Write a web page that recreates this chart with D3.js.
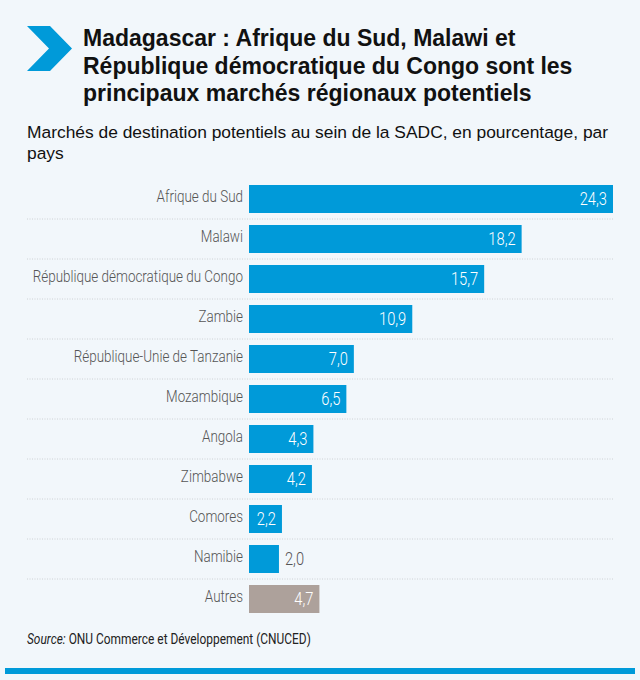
<!DOCTYPE html>
<html>
<head>
<meta charset="utf-8">
<script src="https://cdn.jsdelivr.net/npm/d3@7"></script>
<style>
  body { margin: 0; background: #f2f7fb; }
  svg { display: block; }
</style>
</head>
<body>
<div id="chart"></div>
<script>
const countries = ["Afrique du Sud", "Malawi", "République démocratique du Congo", "Zambie",
  "République-Unie de Tanzanie", "Mozambique", "Angola", "Zimbabwe", "Comores", "Namibie", "Autres"];
const shares = [24.3, 18.2, 15.7, 10.9, 7.0, 6.5, 4.3, 4.2, 2.2, 2.0, 4.7];
const titleLines = ["Madagascar : Afrique du Sud, Malawi et",
  "République démocratique du Congo sont les",
  "principaux marchés régionaux potentiels"];
const subtitleLines = ["Marchés de destination potentiels au sein de la SADC, en pourcentage, par", "pays"];

const width = 640, height = 680;
const blue = "#009ad9", grey = "#ada19b";
const narrow = "Roboto, sans-serif";
const squeeze = 0.84; // the original uses a condensed face

const data = countries.map((c, i) => ({ name: c, value: shares[i] }));

const svg = d3.select("#chart").append("svg")
    .attr("width", width)
    .attr("height", height)
    .style("background", "#f2f7fb");

// chevron
svg.append("path")
    .attr("d", "M27,26 L50,26 L72,48.5 L50,71 L27,71 L49,48.5 Z")
    .attr("fill", blue);

svg.append("g")
    .selectAll("text")
    .data(titleLines)
    .join("text")
    .attr("x", 83)
    .attr("y", (d, i) => 46 + i * 27.5)
    .attr("font-family", "'Liberation Sans', Arial, sans-serif")
    .attr("font-weight", "bold")
    .attr("font-size", 23)
    .attr("fill", "#111")
    .text(d => d);

svg.append("g")
    .selectAll("text")
    .data(subtitleLines)
    .join("text")
    .attr("x", 27)
    .attr("y", (d, i) => 138 + i * 21)
    .attr("font-family", "'Liberation Sans', Arial, sans-serif")
    .attr("font-size", 17.4)
    .attr("fill", "#111")
    .text(d => d);

const x = d3.scaleLinear()
    .domain([0, 24.3])
    .range([249, 613]);

const y = d3.scaleBand()
    .domain(countries)
    .range([179, 619])
    .paddingInner(0.3)
    .paddingOuter(0.15);

// dotted separators
svg.append("g")
    .selectAll("line")
    .data(countries.slice(0, -1))
    .join("line")
    .attr("x1", 27)
    .attr("x2", 613)
    .attr("y1", d => y(d) + y.bandwidth() + y.step() * 0.15)
    .attr("y2", d => y(d) + y.bandwidth() + y.step() * 0.15)
    .attr("stroke", "#c4c8cc")
    .attr("stroke-width", 0.8)
    .attr("stroke-dasharray", "1,1.5");

svg.append("g")
    .selectAll("rect")
    .data(data)
    .join("rect")
    .attr("x", x(0))
    .attr("y", d => y(d.name))
    .attr("width", d => x(d.value) - x(0))
    .attr("height", y.bandwidth())
    .attr("fill", d => d.name === "Autres" ? grey : blue);

svg.append("g")
    .selectAll("text")
    .data(data)
    .join("text")
    .attr("transform", d => `translate(${x(0) - 6},${y(d.name) + y.bandwidth() / 2}) scale(${squeeze},1)`)
    .attr("dy", "0.2em")
    .attr("text-anchor", "end")
    .attr("font-family", narrow)
    .attr("font-weight", 300)
    .attr("font-size", 16)
    .attr("fill", "#555")
    .text(d => d.name);

const fmt = v => d3.format(".1f")(v).replace(".", ",");
const inside = d => d.value > 2;

svg.append("g")
    .selectAll("text")
    .data(data)
    .join("text")
    .attr("transform", d => `translate(${inside(d) ? x(d.value) - 6 : x(d.value) + 6},${y(d.name) + y.bandwidth() / 2}) scale(${squeeze},1)`)
    .attr("dy", "0.36em")
    .attr("text-anchor", d => inside(d) ? "end" : "start")
    .attr("font-family", narrow)
    .attr("font-weight", 300)
    .attr("font-size", 17.5)
    .attr("fill", d => inside(d) ? "#fff" : "#555")
    .text(d => fmt(d.value));

const source = svg.append("text")
    .attr("transform", `translate(27,644) scale(${squeeze},1)`)
    .attr("font-family", narrow)
    .attr("font-size", 14.2)
    .attr("fill", "#222");
source.append("tspan").attr("font-style", "italic").text("Source:");
source.append("tspan").text(" ONU Commerce et Développement (CNUCED)");

svg.append("rect")
    .attr("x", 5)
    .attr("y", 668)
    .attr("width", 630)
    .attr("height", 6)
    .attr("fill", blue);
</script>
</body>
</html>
